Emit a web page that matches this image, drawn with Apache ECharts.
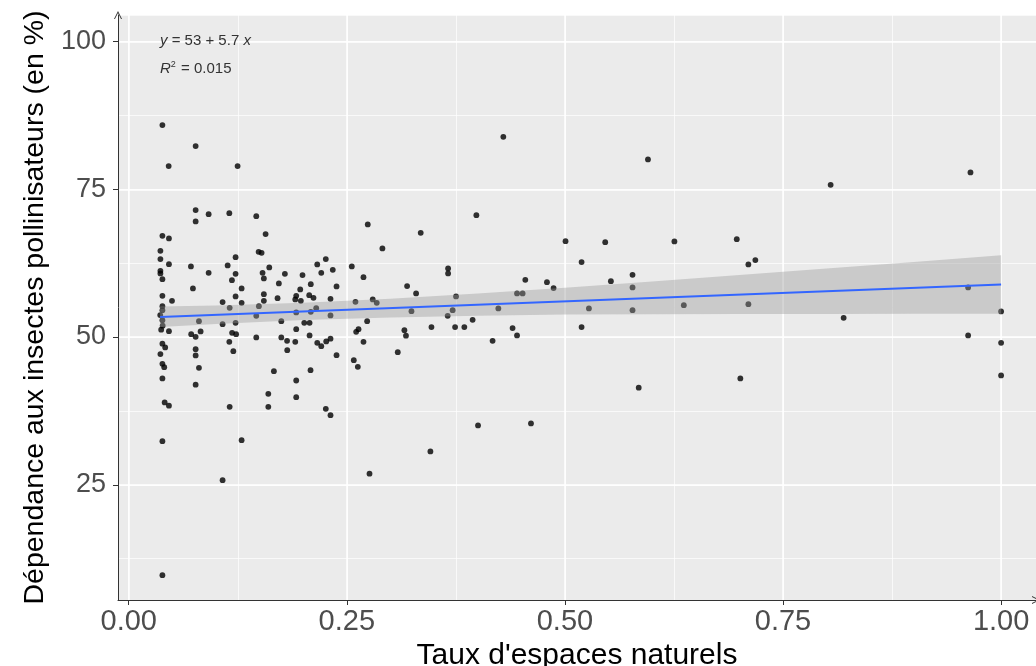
<!DOCTYPE html>
<html><head><meta charset="utf-8">
<script src="https://cdn.jsdelivr.net/npm/echarts@6/dist/echarts.min.js"></script>
<style>html,body{margin:0;padding:0;background:#fff}#c{width:1036px;height:666px}</style>
</head><body><div id="c"></div>
<script>
const xValues = [
0.0386, 0.0767, 0.0458, 0.1248,
0.0767, 0.0767, 0.0916, 0.1153, 0.1462, 0.1569, 0.0386, 0.0461, 0.0363, 0.0363,
0.0461, 0.0363, 0.0363, 0.0386, 0.0713, 0.0916, 0.1134, 0.1225, 0.1225, 0.1183,
0.1489, 0.1523, 0.1611, 0.1534, 0.1549, 0.0736, 0.1294, 0.0386, 0.0496, 0.1076,
0.1225, 0.1294, 0.1549, 0.1549, 0.1706, 0.1721, 0.179, 0.1992, 0.2161, 0.2259,
0.2207, 0.2339, 0.2087, 0.1966, 0.2382, 0.192, 0.1909, 0.1973, 0.2069, 0.2118,
0.2313, 0.2557, 0.2691, 0.274, 0.2908, 0.2599, 0.2797, 0.2843, 0.0386, 0.0805,
0.1157, 0.1492, 0.1462, 0.1076, 0.1225, 0.1749, 0.192, 0.2149, 0.2087, 0.2012,
0.2073, 0.2313, 0.2733, 0.192, 0.0386, 0.0361, 0.0386, 0.0389,
0.0372, 0.0461, 0.0716, 0.0767, 0.0824, 0.1185, 0.1231, 0.1462, 0.1749, 0.1815,
0.1909, 0.2073, 0.2161, 0.2207, 0.2264, 0.2313, 0.2607, 0.2634, 0.2691, 0.0386,
0.0418, 0.0363, 0.0767, 0.0767, 0.1153, 0.1199, 0.1817, 0.2382, 0.0386, 0.0407,
0.0805, 0.1664, 0.2084, 0.258, 0.2626, 0.0386, 0.0767, 0.192, 0.16, 0.192,
0.0412, 0.0461, 0.1157, 0.16, 0.2259, 0.2313, 0.0386, 0.1294, 0.1076, 0.276, 0.0386,
0.4294, 0.5952, 0.3985, 0.3347, 0.5007, 0.5462, 0.5191, 0.3661, 0.3661, 0.3191,
0.3294, 0.3752, 0.4546, 0.4794, 0.487, 0.5527, 0.5775, 0.5775, 0.4451, 0.4515,
0.3241, 0.3713, 0.3656, 0.4237, 0.5275, 0.5775, 0.3942, 0.347, 0.3741, 0.3847,
0.44, 0.4451, 0.5191, 0.316, 0.3178, 0.4171, 0.3084, 0.4004, 0.4611, 0.3458, 0.5846,
0.8046, 0.9649, 0.6255, 0.697, 0.7103, 0.7183, 0.6363, 0.7103, 0.8195, 0.9622,
1.0, 0.9622, 1.0, 1.0, 0.7011
];
const yValues = [
85.87, 82.31, 78.93, 78.93,
71.48, 69.57, 70.8, 70.97, 70.46, 67.42, 67.13, 66.69, 64.59, 63.19,
62.34, 61.21, 60.76, 59.8, 61.95, 60.87, 62.12, 63.52, 60.7, 59.63,
64.42, 64.25, 61.78, 60.87, 59.92, 58.23, 58.23, 56.97, 56.13, 55.91,
56.87, 55.79, 57.26, 56.13, 56.58, 59.07, 60.7, 60.48, 62.29, 63.19,
60.87, 61.37, 58.95, 58.06, 58.57, 56.97, 56.36, 56.13, 57.09, 56.63,
56.47, 61.95, 60.14, 69.06, 65.0, 55.96, 56.36, 55.79, 55.23, 52.69,
54.94, 55.23, 53.59, 52.18, 52.4, 52.69, 54.16, 54.89, 54.27, 52.4,
52.4, 53.66, 52.69, 51.34, 54.55, 53.71, 52.86, 51.93,
51.25, 51.0, 50.49, 50.03, 50.95, 50.71, 50.49, 49.93, 49.93, 49.36,
49.19, 50.27, 49.02, 48.46, 49.26, 49.73, 50.88, 51.34, 49.19, 48.88,
48.24, 47.11, 47.95, 46.89, 49.19, 47.61, 47.78, 46.94, 45.46, 44.9,
44.79, 44.23, 44.4, 46.09, 44.96, 42.99, 41.94, 42.65, 40.39, 39.83,
38.93, 38.39, 38.19, 38.19, 37.85, 36.78, 32.38, 32.55, 25.78, 26.88, 9.7,
83.89, 80.06, 70.63, 67.64, 66.23, 66.06, 62.68, 61.61, 60.76, 58.62,
57.38, 56.87, 59.68, 59.29, 58.28, 59.46, 60.53, 58.4, 57.38, 57.38,
54.38, 54.55, 53.59, 54.84, 54.84, 54.55, 52.91, 51.68, 51.68, 51.68,
51.51, 50.27, 51.68, 51.17, 50.24, 49.36, 47.44, 35.04, 35.38, 30.64, 41.44,
75.76, 77.86, 66.18, 66.57, 62.29, 63.02, 55.4, 55.57, 53.25, 58.4,
54.33, 50.27, 49.02, 43.5, 42.99
];
const fitX = [0.036, 1.0];
const fitY = [53.41, 58.9];
const bandX = [0.036, 0.1, 0.2, 0.3, 0.4, 0.5, 0.6, 0.7, 0.8, 0.9, 1.0];
const bandLow = [51.7, 52.2, 52.9, 53.3, 53.6, 53.8, 53.85, 53.9, 53.9, 53.95, 53.95];
const bandHigh = [55.15, 55.35, 55.8, 56.5, 57.35, 58.35, 59.4, 60.5, 61.6, 62.7, 63.85];
const xTickValues = [0, 0.25, 0.5, 0.75, 1.0];
const xTickLabels = ['0.00', '0.25', '0.50', '0.75', '1.00'];
const yTickValues = [25, 50, 75, 100];
const yTickLabels = ['25', '50', '75', '100'];
const eqLine1 = '{i|y} = 53 + 5.7 {i|x}';
const eqLine2 = '{i|R}{s|2} = 0.015';
const xTitle = "Taux d'espaces naturels";
const yTitle = 'Dépendance aux insectes pollinisateurs (en %)';

const FONT = "'Liberation Sans', Arial, sans-serif";
const arrowPath = 'path://M0,10 L5,0 L10,10 L8.8,10 L5,2.4 L1.2,10 Z';
function pick(vals, labels) {
  return function (v) {
    for (let i = 0; i < vals.length; i++) if (Math.abs(vals[i] - v) < 1e-9) return labels[i];
    return '';
  };
}
const XMIN = -0.0123, XMAX = 1.04, YMIN = 5.5, YMAX = 104.5;

const chart = echarts.init(document.getElementById('c'), null, {renderer: 'canvas'});
chart.setOption({
  animation: false,
  backgroundColor: '#ffffff',
  grid: {left: 118, right: 0, top: 15, bottom: 66, show: true, backgroundColor: '#EBEBEB', borderWidth: 0,
    containLabel: false, outerBoundsMode: 'none'},
  xAxis: [{
    type: 'value', min: XMIN, max: XMAX, minInterval: 0.25, maxInterval: 0.25, z: 1,
    axisLine: {show: true, onZero: false, lineStyle: {color: '#333333', width: 1}, symbol: ['none', arrowPath], symbolSize: [10, 8]},
    axisTick: {show: true, length: 5, lineStyle: {color: '#333333', width: 1}, customValues: xTickValues},
    axisLabel: {customValues: xTickValues, formatter: pick(xTickValues, xTickLabels), fontSize: 29, color: '#4D4D4D', margin: 7, fontFamily: FONT},
    splitLine: {show: true, lineStyle: {color: '#ffffff', width: 1.5}},
    name: xTitle, nameLocation: 'middle', nameGap: 37,
    nameTextStyle: {fontSize: 30, color: '#000000', fontFamily: FONT}
  }, {
    type: 'value', min: XMIN, max: XMAX, minInterval: 0.125, maxInterval: 0.125, position: 'top', z: 0,
    axisLine: {show: false}, axisTick: {show: false}, axisLabel: {show: false},
    splitLine: {show: true, lineStyle: {color: '#ffffff', width: 0.7}}
  }],
  yAxis: [{
    type: 'value', min: YMIN, max: YMAX, minInterval: 25, maxInterval: 25, z: 1,
    axisLine: {show: true, onZero: false, lineStyle: {color: '#333333', width: 1}, symbol: ['none', arrowPath], symbolSize: [10, 8]},
    axisTick: {show: true, length: 5, lineStyle: {color: '#333333', width: 1}, customValues: yTickValues},
    axisLabel: {customValues: yTickValues, formatter: pick(yTickValues, yTickLabels), fontSize: 27, color: '#4D4D4D', margin: 12, fontFamily: FONT},
    splitLine: {show: true, lineStyle: {color: '#ffffff', width: 1.5}},
    name: yTitle, nameLocation: 'middle', nameGap: 58,
    nameTextStyle: {fontSize: 28.5, color: '#000000', fontFamily: FONT}
  }, {
    type: 'value', min: YMIN, max: YMAX, minInterval: 12.5, maxInterval: 12.5, position: 'right', z: 0,
    axisLine: {show: false}, axisTick: {show: false}, axisLabel: {show: false},
    splitLine: {show: true, lineStyle: {color: '#ffffff', width: 0.7}}
  }],
  series: [{
    type: 'scatter', xAxisIndex: 0, yAxisIndex: 0, z: 2, silent: true,
    symbol: 'circle', symbolSize: 5.8,
    itemStyle: {color: '#000000'},
    data: xValues.map((x, i) => [x, yValues[i]])
  }, {
    type: 'custom', xAxisIndex: 0, yAxisIndex: 0, z: 3, silent: true,
    data: [[bandX[0], bandLow[0]]],
    renderItem: function (params, api) {
      const pts = [];
      for (let i = 0; i < bandX.length; i++) pts.push(api.coord([bandX[i], bandHigh[i]]));
      for (let i = bandX.length - 1; i >= 0; i--) pts.push(api.coord([bandX[i], bandLow[i]]));
      return {type: 'polygon', shape: {points: pts}, style: {fill: 'rgba(153,153,153,0.4)'}};
    }
  }, {
    type: 'line', xAxisIndex: 0, yAxisIndex: 0, z: 4, silent: true,
    symbol: 'none', lineStyle: {color: '#3366FF', width: 2},
    data: fitX.map((x, i) => [x, fitY[i]])
  }],
  graphic: [{
    type: 'text', left: 160, top: 33, z: 10,
    style: {text: eqLine1, fontSize: 15, fill: '#333333', fontFamily: FONT,
      rich: {i: {fontStyle: 'italic', fontSize: 15, fill: '#333333', fontFamily: FONT}}}
  }, {
    type: 'text', left: 160, top: 60, z: 10,
    style: {text: eqLine2, fontSize: 15, fill: '#333333', fontFamily: FONT, lineHeight: 18,
      rich: {
        i: {fontStyle: 'italic', fontSize: 15, fill: '#333333', fontFamily: FONT, lineHeight: 18},
        s: {fontSize: 9, fill: '#333333', fontFamily: FONT, lineHeight: 18, verticalAlign: 'top', padding: [0, 1, 0, 0]}
      }}
  }]
});
</script></body></html>
